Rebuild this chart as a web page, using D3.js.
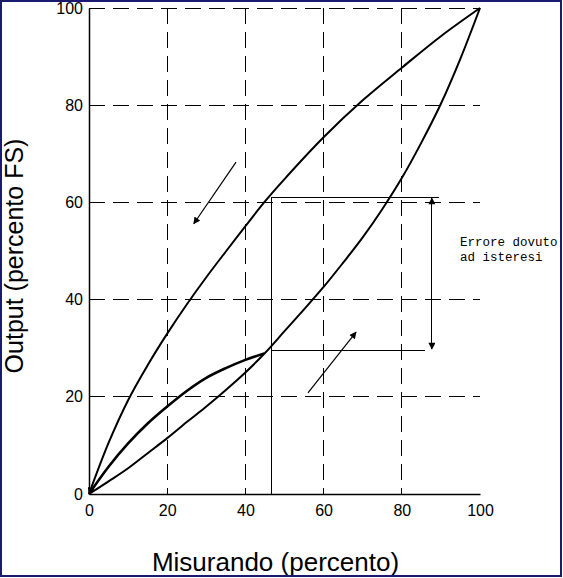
<!DOCTYPE html>
<html lang="it">
<head>
    <meta charset="UTF-8">
    <title>Isteresi</title>
    <script src="https://cdn.jsdelivr.net/npm/d3@7"></script>
    <style>
        body { margin: 0; background: #fff; }
        svg { display: block; }
    </style>
</head>
<body>
    <svg width="563" height="578"></svg>
    <script>
        // valori (percento)
        var ticks = [0, 20, 40, 60, 80, 100];
        var gridY = [20, 40, 60, 80, 100];
        var gridX = [20, 40, 60, 80];

        // ramo discendente (sopra)
        var downX = [0, 5, 10, 15, 20, 25, 30, 35, 40, 45, 50, 60, 70, 80, 90, 100];
        var downY = [0, 10.5, 19.3, 26.5, 33, 39, 44.6, 49.9, 55.1, 60.2, 64.8, 73.4, 81, 87.7, 94.2, 100];
        // ramo ascendente (sotto)
        var upX = [0, 5, 10, 15, 20, 25, 30, 35, 40, 45, 50, 55, 60, 65, 70, 75, 80, 85, 90, 95, 100];
        var upY = [0, 2.6, 5.3, 8.4, 11.5, 14.8, 18, 21.4, 25, 29, 33.5, 38, 42.6, 47.6, 52.8, 58.6, 65, 72.3, 80.3, 89.6, 100];
        // ciclo minore
        var minorX = [0, 5, 10, 15, 20, 25, 30, 35, 40, 44.8];
        var minorY = [0, 5.6, 10.4, 14.5, 18, 21.2, 23.9, 25.9, 27.6, 28.9];

        // quote dell'errore di isteresi
        var errX = 46.8, errTop = 61.1, errBottom = 29.6;
        var errTopEnd = 89.5, errBottomEnd = 85.9, errArrowX = 87.7;
        // frecce di direzione [x1, y1, x2, y2]
        var arrowDown = [37.6, 68.3, 26.8, 55.6];
        var arrowUp = [56, 20.8, 68.3, 33.3];
        var errLabel = ["Errore dovuto", "ad isteresi"];

        var marge = {top: 8, left: 89};
        var svg = d3.select("svg");
        var plotW = 391, plotH = 486;

        var defs = svg.append("defs");
        defs.append("marker")
            .attr("id", "head")
            .attr("viewBox", "0 0 10 10")
            .attr("refX", 9).attr("refY", 5)
            .attr("markerWidth", 9).attr("markerHeight", 7)
            .attr("markerUnits", "userSpaceOnUse")
            .attr("orient", "auto-start-reverse")
            .append("path")
            .attr("d", "M0,0L10,5L0,10Z")
            .attr("fill", "#000");

        var g = svg.append("g")
            .attr("transform", "translate(" + marge.left + "," + marge.top + ")");

        var xScale = d3.scaleLinear().domain([0, 100]).range([0, plotW]);
        var yScale = d3.scaleLinear().domain([0, 100]).range([plotH, 0]);

        // griglia tratteggiata
        g.selectAll(".gy").data(gridY).enter().append("line")
            .attr("x1", xScale(0)).attr("x2", xScale(100))
            .attr("y1", function(d){ return yScale(d); })
            .attr("y2", function(d){ return yScale(d); })
            .attr("stroke", "#000").attr("stroke-width", 1)
            .attr("shape-rendering", "crispEdges")
            .attr("stroke-dasharray", "16,8");
        g.selectAll(".gx").data(gridX).enter().append("line")
            .attr("y1", yScale(100)).attr("y2", yScale(0))
            .attr("x1", function(d){ return xScale(d); })
            .attr("x2", function(d){ return xScale(d); })
            .attr("stroke", "#000").attr("stroke-width", 1)
            .attr("shape-rendering", "crispEdges")
            .attr("stroke-dasharray", "16,8");

        // assi
        var xAxis = d3.axisBottom(xScale).tickValues(ticks).tickSize(0).tickPadding(11);
        var yAxis = d3.axisLeft(yScale).tickValues(ticks).tickSize(0).tickPadding(6);
        var gx = g.append("g").attr("transform", "translate(0," + plotH + ")").call(xAxis);
        var gy = g.append("g").call(yAxis);
        [gx, gy].forEach(function(a){
            a.select(".domain").attr("stroke", "#000").attr("stroke-width", 1.5);
            a.selectAll("text")
                .attr("font-family", "Liberation Sans, Arial, sans-serif")
                .attr("font-size", 16).attr("fill", "#000");
        });

        // curve
        function pts(xs, ys){ return xs.map(function(x, i){ return [x, ys[i]]; }); }
        var line = d3.line()
            .x(function(d){ return xScale(d[0]); })
            .y(function(d){ return yScale(d[1]); })
            .curve(d3.curveCatmullRom.alpha(0.5));

        g.append("path").attr("d", line(pts(downX, downY)))
            .attr("fill", "none").attr("stroke", "#000").attr("stroke-width", 2)
            .attr("marker-start", "url(#head)");
        g.append("path").attr("d", line(pts(upX, upY)))
            .attr("fill", "none").attr("stroke", "#000").attr("stroke-width", 2);
        g.append("path").attr("d", line(pts(minorX, minorY)))
            .attr("fill", "none").attr("stroke", "#000").attr("stroke-width", 2.6);

        // quote
        var thin = function(sel){
            return sel.attr("stroke", "#000").attr("stroke-width", 1);
        };
        var crisp = function(sel){ return thin(sel).attr("shape-rendering", "crispEdges"); };
        crisp(g.append("line")
            .attr("x1", xScale(errX)).attr("x2", xScale(errX))
            .attr("y1", yScale(0)).attr("y2", yScale(errTop)));
        crisp(g.append("line")
            .attr("x1", xScale(errX)).attr("x2", xScale(errTopEnd))
            .attr("y1", yScale(errTop)).attr("y2", yScale(errTop)));
        crisp(g.append("line")
            .attr("x1", xScale(errX)).attr("x2", xScale(errBottomEnd))
            .attr("y1", yScale(errBottom)).attr("y2", yScale(errBottom)));
        crisp(g.append("line")
            .attr("x1", xScale(errArrowX)).attr("x2", xScale(errArrowX))
            .attr("y1", yScale(errTop) + 1).attr("y2", yScale(errBottom) - 1))
            .attr("marker-start", "url(#head)")
            .attr("marker-end", "url(#head)");

        [arrowDown, arrowUp].forEach(function(a){
            thin(g.append("line")
                .attr("x1", xScale(a[0])).attr("y1", yScale(a[1]))
                .attr("x2", xScale(a[2])).attr("y2", yScale(a[3])))
                .attr("stroke-width", 1.2)
                .attr("marker-end", "url(#head)");
        });

        g.append("text")
            .attr("y", yScale(errTop) + 49)
            .attr("font-family", "Liberation Mono, Courier New, monospace")
            .attr("font-size", 12.5).attr("fill", "#000")
            .selectAll("tspan").data(errLabel).enter().append("tspan")
            .attr("x", xScale(100) - 20)
            .attr("dy", function(d, i){ return i ? 15 : 0; })
            .text(function(d){ return d; });

        // titoli degli assi
        svg.append("text")
            .attr("x", marge.left + plotW / 2 - 9).attr("y", 571)
            .attr("text-anchor", "middle")
            .attr("font-family", "Liberation Sans, Arial, sans-serif")
            .attr("font-size", 26).attr("fill", "#000")
            .text("Misurando (percento)");
        svg.append("text")
            .attr("transform", "translate(23,256) rotate(-90)")
            .attr("text-anchor", "middle")
            .attr("font-family", "Liberation Sans, Arial, sans-serif")
            .attr("font-size", 25).attr("fill", "#000")
            .text("Output (percento FS)");

        // cornice
        svg.append("rect")
            .attr("x", 1).attr("y", 1).attr("width", 560).attr("height", 575)
            .attr("fill", "none").attr("stroke", "#1a1a70").attr("stroke-width", 2);
    </script>
</body>
</html>
